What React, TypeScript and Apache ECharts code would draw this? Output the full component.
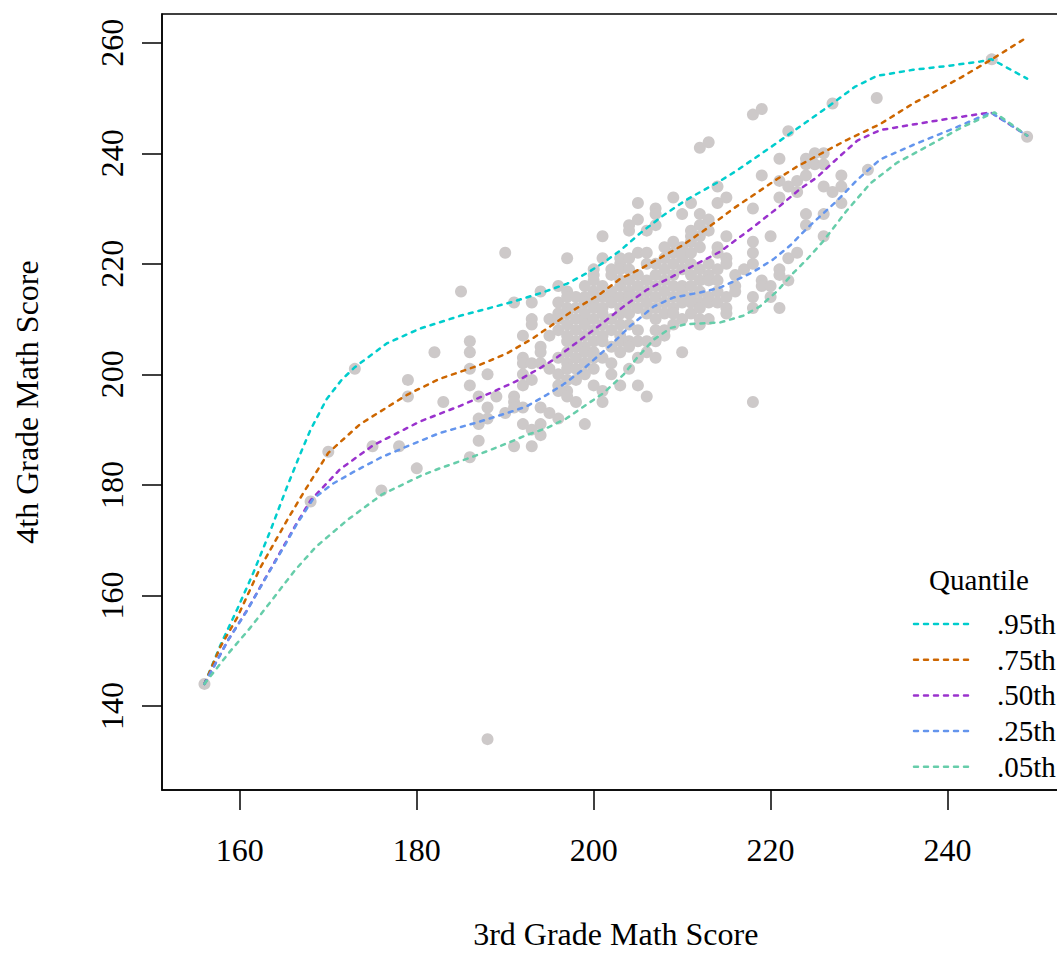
import React, { useEffect, useRef } from "react";
import * as echarts from "echarts";

const xTicks = [160, 180, 200, 220, 240];
const yTicks = [140, 160, 180, 200, 220, 240, 260];

const xTitle = "3rd Grade Math Score";
const yTitle = "4th Grade Math Score";
const legendTitle = "Quantile";

// observed (3rd grade, 4th grade) score pairs
const students: [number, number][] = [
  [156,144],[188,134],[168,177],[170,186],[173,201],[175,187],[176,179],[178,187],[179,199],[179,196],[180,183],[182,204],[183,195],[185,215],[186,206],[186,204],[186,201],[186,198],[186,185],[187,196],[187,192],[187,191],[187,188],[188,200],[188,194],[188,192],[189,196],[190,222],[190,193],[191,213],[191,196],[191,195],[191,194],[191,187],[192,207],[192,203],[192,202],[192,200],[192,198],[192,194],[192,191],[193,213],[193,210],[193,209],[193,202],[193,199],[193,190],[193,187],[194,215],[194,205],[194,204],[194,202],[194,194],[194,191],[194,189],[195,210],[195,207],[195,201],[195,193],[196,216],[196,213],[196,211],[196,210],[196,208],[196,203],[196,200],[196,198],[196,197],[196,192],
  [197,221],[197,215],[197,214],[197,212],[197,211],[197,209],[197,207],[197,206],[197,204],[197,202],[197,201],[197,199],[197,197],[197,196],[198,214],[198,212],[198,210],[198,208],[198,206],[198,205],[198,203],[198,201],[198,199],[198,195],[199,216],[199,214],[199,213],[199,211],[199,210],[199,209],[199,207],[199,205],[199,204],[199,202],[199,200],[199,191],
  [200,219],[200,218],[200,217],[200,215],[200,213],[200,212],[200,210],[200,208],[200,206],[200,204],[200,203],[200,201],[200,198],[201,225],[201,221],[201,216],[201,214],[201,212],[201,211],[201,209],[201,207],[201,206],[201,203],[201,197],[201,195],[202,219],[202,218],[202,215],[202,214],[202,213],[202,210],[202,208],[202,205],[202,202],[202,200],
  [203,221],[203,220],[203,219],[203,217],[203,216],[203,214],[203,212],[203,211],[203,209],[203,207],[203,206],[203,204],[203,198],[204,227],[204,226],[204,221],[204,219],[204,217],[204,215],[204,214],[204,213],[204,211],[204,209],[204,206],[204,205],[204,201],[205,231],[205,228],[205,222],[205,218],[205,216],[205,214],[205,212],[205,208],[205,206],[205,203],[205,198],
  [206,226],[206,222],[206,220],[206,217],[206,215],[206,213],[206,211],[206,206],[206,204],[206,196],[207,230],[207,229],[207,227],[207,220],[207,218],[207,216],[207,214],[207,212],[207,210],[207,208],[207,206],[207,203],[208,223],[208,221],[208,219],[208,217],[208,215],[208,213],[208,211],[208,208],[208,207],
  [209,232],[209,224],[209,222],[209,220],[209,218],[209,216],[209,214],[209,212],[209,211],[209,209],[210,229],[210,223],[210,222],[210,221],[210,219],[210,216],[210,215],[210,213],[210,210],[210,204],[211,231],[211,226],[211,225],[211,224],[211,222],[211,220],[211,218],[211,216],[211,214],[211,213],[211,211],
  [212,241],[212,229],[212,227],[212,225],[212,223],[212,219],[212,217],[212,215],[212,213],[212,212],[212,210],[212,209],[213,242],[213,228],[213,226],[213,220],[213,218],[213,217],[213,214],[213,213],[213,210],[214,234],[214,231],[214,223],[214,222],[214,219],[214,217],[214,215],[214,213],
  [215,232],[215,225],[215,221],[215,220],[215,214],[215,212],[215,211],[216,218],[216,216],[216,215],[217,219],[218,247],[218,230],[218,224],[218,222],[218,220],[218,214],[218,212],[218,195],[219,248],[219,236],[219,217],[219,216],[220,225],[220,216],[220,214],
  [221,239],[221,235],[221,232],[221,219],[221,218],[221,212],[222,244],[222,234],[222,221],[222,217],[223,235],[223,233],[223,222],[224,239],[224,238],[224,236],[224,229],[224,227],[225,240],[225,238],[226,240],[226,238],[226,234],[226,229],[226,225],[227,249],[227,233],[228,236],[228,234],[228,231],[231,237],[232,250],[245,257],[249,243]
];

const q95: [number, number][] = [[156,144],[157.8,151],[159.7,157.5],[161.5,164],[163.4,171.5],[165.3,179.5],[166.8,185.5],[168,190],[169.8,195.5],[171.5,199],[173,201.3],[176.6,205.6],[180.4,208.3],[184.9,210.6],[188,211.9],[191,213.2],[194,214.7],[197,216.4],[199.2,218.3],[201.1,220.2],[203,222.4],[205.3,225.6],[207.9,228.8],[210.5,231.6],[214.3,235],[216.2,236.9],[219.2,240.2],[221,242.2],[224,245.6],[226.9,248.9],[229.5,252],[232,254],[236.1,255.1],[240,255.8],[243.7,256.6],[245,257],[249,253.5]];
const q75: [number, number][] = [[156,144],[157.8,150.7],[159.7,156],[162.3,165],[165.3,173.5],[167.2,178.6],[170,185.8],[173.6,191],[178.9,196.3],[182.6,199.2],[186.8,201.5],[190.2,203.8],[193.2,206.6],[195.1,208.7],[197.7,211.6],[200.7,214.5],[203,217.3],[205.2,219],[210.1,223.4],[212.8,226.4],[215.8,230],[220.7,235.3],[223,237.6],[226,240.2],[228.6,242.4],[232.4,245.3],[236.1,249],[241.5,253.7],[244.9,256.9],[249,261]];
const q50: [number, number][] = [[156,144],[158.7,152],[160.8,157.3],[162.9,163.2],[164.7,168.2],[166.4,173],[168,177.2],[171.3,182.8],[175.1,187.2],[180.4,191.5],[184.9,194.3],[188.7,196.9],[191.7,199.1],[194,201.2],[195.8,203],[197.7,205.3],[200.7,208.9],[203.4,212.3],[206,215.3],[210.1,218.7],[214.3,222.2],[218,226.6],[220.7,230],[223.3,233.5],[225.2,235.6],[227.5,239],[229.8,242.3],[232.4,244.2],[236.1,245.2],[240.7,246.4],[244.9,247.4],[249,243.2]];
const q25: [number, number][] = [[156,144],[158.7,152],[160.8,157.2],[162.9,163.1],[164.7,168],[166.4,172.8],[168.3,177.5],[170.5,180.2],[172.8,182.3],[176,185],[179.1,187.1],[182.6,189.4],[186.8,191.3],[190.2,193],[192.4,194.2],[194.7,196.3],[196.6,198.2],[198.5,200.5],[200.4,203.2],[202.2,205.7],[204.1,208.7],[206.8,212.3],[209,213.9],[212,214.8],[214.3,215.7],[216.2,217.1],[218,218.5],[220.3,220.8],[222.2,223.3],[224.1,226.4],[227.5,231.4],[229.8,235.2],[232.4,238.9],[236.1,241.5],[240.7,244.5],[244.9,247.4],[249,243.2]];
const q05: [number, number][] = [[156,144],[158.8,149.7],[161.1,154],[163.5,158.9],[166.2,164.5],[168.6,168.8],[172.2,173.7],[176.1,178.3],[180.4,181.6],[182.6,183],[186,184.9],[189.4,187],[192.4,189],[194.7,190.3],[196.9,192],[198.8,194.1],[201.1,196.6],[203.4,200],[204.9,203],[206.8,206.3],[208.7,208.4],[210.5,209.1],[214.3,209.4],[216.9,210.6],[218.8,212.3],[220.7,215],[222.6,218.4],[224.1,220.8],[225.9,224],[228.6,229.6],[231.3,234.6],[234.3,238.3],[238,241.5],[241.5,244.6],[245.3,247.4],[249,243.2]];

const quantileNames = [".95th", ".75th", ".50th", ".25th", ".05th"];
const quantileData = [q95, q75, q50, q25, q05];
const quantileColors = ["#00CDCD", "#CD6600", "#9A32CD", "#6495ED", "#66CDAA"];

const FONT = "Liberation Serif";
const DASH = [4, 6];

export default function App() {
  const ref = useRef<HTMLDivElement>(null);
  useEffect(() => {
    if (!ref.current) return;
    const chart = echarts.init(ref.current, null, { renderer: "svg" });
    const legendX1 = 914, legendX2 = 970, legendTextX = 997, legendTop = 624, legendStep = 35.7;
    const graphic: any[] = [
      {
        type: "text", x: 979, y: 580,
        style: { text: legendTitle, fontSize: 29, fontFamily: FONT, fill: "#000", textAlign: "center", textVerticalAlign: "middle", verticalAlign: "middle" },
      },
    ];
    quantileNames.forEach((nm, i) => {
      const yy = legendTop + i * legendStep;
      graphic.push({
        type: "line", shape: { x1: legendX1, y1: yy, x2: legendX2, y2: yy },
        style: { stroke: quantileColors[i], lineWidth: 2.5, lineDash: DASH, lineCap: "round" },
      });
      graphic.push({
        type: "text", x: legendTextX, y: yy,
        style: { text: nm, fontSize: 29, fontFamily: FONT, fill: "#000", textAlign: "left", textVerticalAlign: "middle", verticalAlign: "middle" },
      });
    });
    const axisCommon = {
      type: "value",
      splitLine: { show: false },
      axisLine: { show: true, onZero: false, lineStyle: { color: "#000", width: 1.5 } },
      nameLocation: "middle",
      nameTextStyle: { fontSize: 32, color: "#000", fontFamily: FONT },
    };
    chart.setOption({
      animation: false,
      backgroundColor: "#fff",
      textStyle: { fontFamily: FONT },
      grid: { left: 162, top: 14, width: 907.6, height: 788, show: true, borderColor: "#000", borderWidth: 1.5, backgroundColor: "transparent" },
      xAxis: {
        ...axisCommon,
        min: 151.2, max: 253.8,
        name: xTitle, nameGap: 128,
        axisTick: { show: true, length: 20, lineStyle: { color: "#000", width: 1.5 }, customValues: xTicks },
        axisLabel: { customValues: xTicks, fontSize: 32, color: "#000", margin: 44, fontFamily: FONT },
      },
      yAxis: {
        ...axisCommon,
        min: 124.8, max: 265.2,
        name: yTitle, nameGap: 119, nameRotate: 90,
        axisTick: { show: true, length: 20, lineStyle: { color: "#000", width: 1.5 }, customValues: yTicks },
        axisLabel: { customValues: yTicks, fontSize: 32, color: "#000", margin: 34, rotate: 90, fontFamily: FONT },
      },
      graphic,
      series: [
        {
          type: "scatter", data: students, symbol: "circle", symbolSize: 12, z: 1,
          itemStyle: { color: "#CDC9C9", opacity: 1 },
          emphasis: { disabled: true },
        },
        ...quantileNames.map((nm, i) => ({
          type: "line", name: nm, data: quantileData[i], symbol: "none", z: 2, smooth: false,
          lineStyle: { color: quantileColors[i], width: 2.5, type: DASH, cap: "round" },
          emphasis: { disabled: true },
        })),
      ],
    });
    return () => chart.dispose();
  }, []);
  return (
    <div style={{ position: "absolute", left: 0, top: 0, width: 1057, height: 955, overflow: "hidden", background: "#fff" }}>
      <div ref={ref} style={{ width: 1100, height: 955 }} />
    </div>
  );
}
